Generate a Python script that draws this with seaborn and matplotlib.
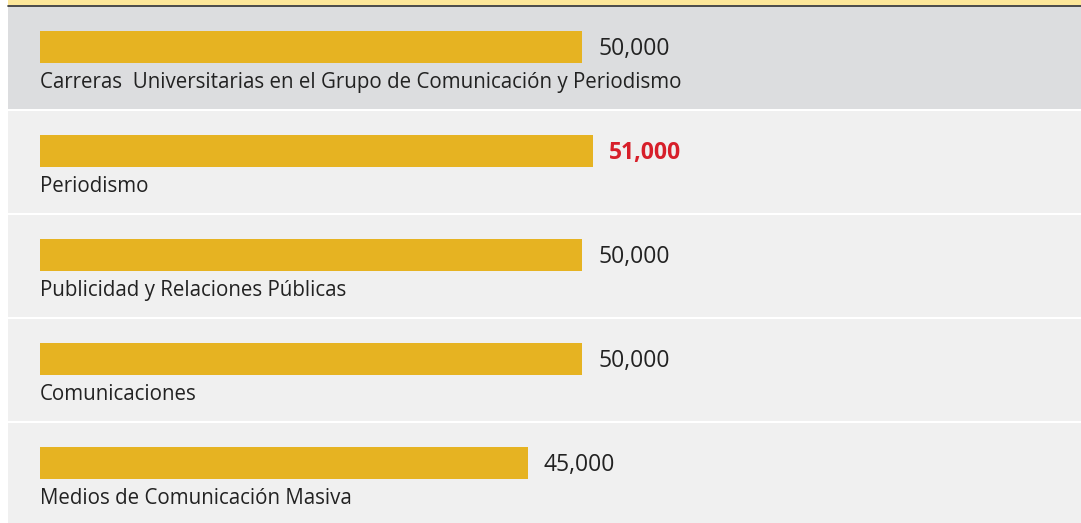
import numpy as np
import pandas as pd
import seaborn as sns
import matplotlib.pyplot as plt

categories = ["Carreras  Universitarias en el Grupo de Comunicación y Periodismo",
              "Periodismo",
              "Publicidad y Relaciones Públicas",
              "Comunicaciones",
              "Medios de Comunicación Masiva"]
values = [50000, 51000, 50000, 50000, 45000]
highlight = "Periodismo"

bar_color = "#E6B322"
red = "#D71F2A"
text_color = "#222222"

df = pd.DataFrame({"carrera": categories, "sueldo": values})

sns.set_theme(style="white")
plt.rcParams["font.family"] = ["Open Sans", "DejaVu Sans"]

W, H = 1081, 523
fig = plt.figure(figsize=(W / 100, H / 100), dpi=100)
ax = fig.add_axes([0, 0, 1, 1])

# pixel layout -> data units
k = 542 / 50000          # px per value unit
pitch = 104              # px per row
x0 = -40 / k

# row backgrounds
for i, cat in enumerate(categories):
    bg = "#DCDDDF" if i == 0 else "#F0F0F0"
    ax.axhspan(i - 40 / pitch, i + 62 / pitch, xmin=8 / W, xmax=1, color=bg, lw=0, zorder=0)
# top yellow strip
ax.axhspan(-47 / pitch, -41.5 / pitch, xmin=8 / W, xmax=1, color="#FDE79A", lw=0, zorder=0)
ax.axhline(-41 / pitch, xmin=8 / W, xmax=1, color="#2b2b2b", lw=1.2, zorder=1)

sns.barplot(data=df, y="carrera", x="sueldo", orient="h", color=bar_color,
            width=32 / pitch, saturation=1, linewidth=0, ax=ax, zorder=2)

ax.set_xlim(x0, x0 + W / k)
ax.set_ylim((H - 47) / pitch, -47 / pitch)

for i, (cat, v) in enumerate(zip(categories, values)):
    hl = cat == highlight
    ax.text(v + 16 / k, i + 8 / pitch, f"{v:,}", fontsize=16.5,
            color=red if hl else text_color, fontweight="bold" if hl else "normal",
            va="baseline", ha="left")
    ax.text(0, i + 41 / pitch, cat, fontsize=14.8, color=text_color,
            va="baseline", ha="left")

ax.set_axis_off()
fig.savefig("out.png", dpi=100, facecolor="white")
